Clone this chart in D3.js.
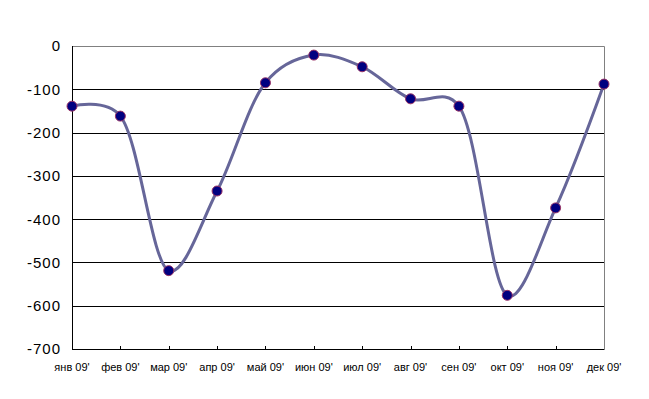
<!DOCTYPE html>
<html>
<head>
<meta charset="utf-8">
<script src="https://cdn.jsdelivr.net/npm/d3@7"></script>
<style>
  body { margin: 0; background: #fff; }
  text { font-family: "Liberation Sans", Arial, sans-serif; }
</style>
</head>
<body>
<div id="chart"></div>
<script>
var months = ["янв 09'", "фев 09'", "мар 09'", "апр 09'", "май 09'", "июн 09'",
              "июл 09'", "авг 09'", "сен 09'", "окт 09'", "ноя 09'", "дек 09'"];
var values = [-139, -162, -519, -335, -85, -21, -48, -122, -139, -576, -374, -88];
var yTicks = [0, -100, -200, -300, -400, -500, -600, -700];

var svgWidth = 649;
var svgHeight = 399;
var margin = { top: 46, right: 45, bottom: 50, left: 72 };
var width = 604 - margin.left;
var height = 349 - margin.top;

var svg = d3.select("#chart").append("svg")
  .attr("width", svgWidth)
  .attr("height", svgHeight);

var g = svg.append("g")
  .attr("transform", `translate(${margin.left}, ${margin.top})`);

var x = d3.scalePoint().domain(months).range([0, width]);
var y = d3.scaleLinear().domain([-700, 0]).range([height, 0]);

// gridlines
g.selectAll(".grid")
  .data(yTicks.filter(d => d < 0 && d > -700))
  .enter().append("line")
  .attr("x1", 0).attr("x2", width)
  .attr("y1", d => Math.round(y(d)) + 0.5)
  .attr("y2", d => Math.round(y(d)) + 0.5)
  .attr("stroke", "#000").attr("stroke-width", 1);

// plot border top/right (gray)
g.append("path")
  .attr("d", `M0,0.5H${width + 0.5}V${height}`)
  .attr("fill", "none").attr("stroke", "#808080");

// y axis
g.append("line")
  .attr("x1", 0.5).attr("x2", 0.5).attr("y1", 0).attr("y2", height + 0.5)
  .attr("stroke", "#000");
g.selectAll(".ylab")
  .data(yTicks)
  .enter().append("text")
  .attr("x", -11)
  .attr("y", d => y(d))
  .attr("dy", "0.36em")
  .attr("text-anchor", "end")
  .attr("font-size", "15px")
  .attr("letter-spacing", "1px")
  .text(d => d);

// x axis
g.append("line")
  .attr("x1", 0).attr("x2", width + 0.5)
  .attr("y1", height + 0.5).attr("y2", height + 0.5)
  .attr("stroke", "#000");
g.selectAll(".xtick")
  .data(months.slice(1, -1))
  .enter().append("line")
  .attr("x1", d => Math.round(x(d)) + 0.5).attr("x2", d => Math.round(x(d)) + 0.5)
  .attr("y1", height).attr("y2", height - 3)
  .attr("stroke", "#000");
g.selectAll(".xlab")
  .data(months)
  .enter().append("text")
  .attr("x", d => x(d))
  .attr("y", height + 22)
  .attr("text-anchor", "middle")
  .attr("font-size", "11px")
  .text(d => d);

// smooth line
var line = d3.line()
  .x((d, i) => x(months[i]))
  .y(d => y(d))
  .curve(d3.curveCatmullRom.alpha(0.25));

g.append("path")
  .datum(values)
  .attr("d", line)
  .attr("fill", "none")
  .attr("stroke", "#666699")
  .attr("stroke-width", 3);

// markers
g.selectAll(".dot")
  .data(values)
  .enter().append("circle")
  .attr("cx", (d, i) => x(months[i]))
  .attr("cy", d => y(d))
  .attr("r", 5)
  .attr("fill", "#000080")
  .attr("stroke", "#993366")
  .attr("stroke-width", 1);
</script>
</body>
</html>
